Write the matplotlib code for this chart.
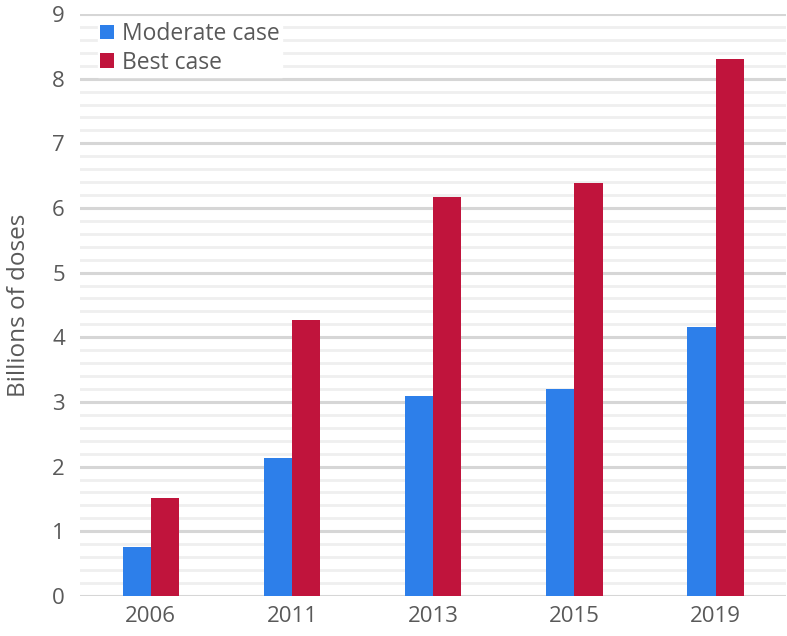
import numpy as np
import matplotlib.pyplot as plt
from matplotlib.ticker import MultipleLocator

years = ["2006", "2011", "2013", "2015", "2019"]
moderate = [0.76, 2.13, 3.09, 3.20, 4.16]
best = [1.51, 4.27, 6.17, 6.38, 8.30]

plt.rcParams['font.family'] = ['Open Sans', 'DejaVu Sans']

fig = plt.figure(figsize=(7.87, 6.36), dpi=100)
ax = fig.add_axes([0.102, 0.063, 0.897, 0.915])

x = np.arange(len(years))
w = 0.2
ax.bar(x - w / 2, moderate, w, color="#2d7fea", label="Moderate case", zorder=3)
ax.bar(x + w / 2, best, w, color="#c0143c", label="Best case", zorder=3)

ax.set_xlim(-0.5, len(years) - 0.5)
ax.set_ylim(0, 9)
ax.yaxis.set_major_locator(MultipleLocator(1))
ax.yaxis.set_minor_locator(MultipleLocator(0.2))
ax.grid(axis="y", which="major", color="#d6d6d6", linewidth=2.2, zorder=0)
ax.grid(axis="y", which="minor", color="#efefef", linewidth=2.0, zorder=0)

ax.set_xticks(x)
ax.set_xticklabels(years)
ax.tick_params(axis="both", which="both", length=0, labelsize=16, colors="#595959")
ax.tick_params(axis="x", pad=7)
ax.tick_params(axis="y", pad=11)
for s in ax.spines.values():
    s.set_visible(False)

ax.set_ylabel("Billions of doses", fontsize=17.5, color="#595959", labelpad=15)

leg = ax.legend(loc="upper left", bbox_to_anchor=(0.018, 0.998), fontsize=16.5,
                frameon=True, fancybox=False, edgecolor="white", facecolor="white",
                framealpha=1, handlelength=0.6, handleheight=0.6, handletextpad=0.35,
                labelspacing=0.2, borderpad=0.1, borderaxespad=0.2)
for t in leg.get_texts():
    t.set_color("#595959")

plt.savefig("out.png", dpi=100)
plt.close()
